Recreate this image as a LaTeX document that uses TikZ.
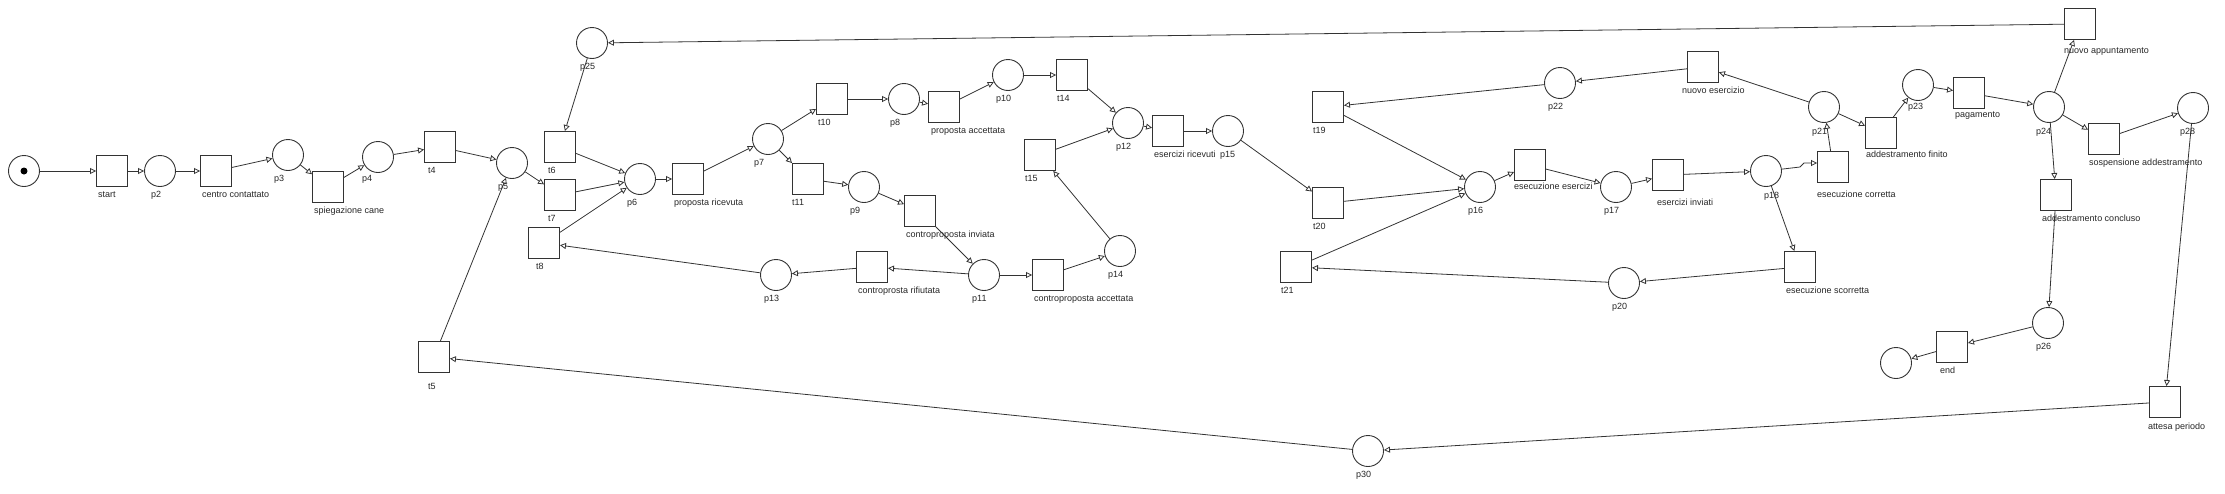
\documentclass[tikz,border=0pt]{standalone}
\usepackage{fontspec}
\setmainfont{Liberation Sans}
\usepackage{tikz}
\usetikzlibrary{arrows.meta}

\tikzset{
    place/.style={circle, draw=black!80, line width=0.9pt, minimum size=31pt, inner sep=0pt},
    transition/.style={rectangle, draw=black!80, line width=0.9pt, minimum size=31pt, inner sep=0pt},
    tok/.style={circle, fill=black, minimum size=7pt, inner sep=0pt},
    lbl/.style={anchor=west, inner sep=0pt, text=black!85, font=\fontsize{9}{10}\selectfont, text height=6.5pt, text depth=2pt},
    flow/.style={draw=black!80, line width=0.8pt, -{Triangle[open, length=6pt, width=6pt]}}
}

\begin{document}
\begin{tikzpicture}[x=1pt, y=-1pt]
\useasboundingbox (0,0) rectangle (2225,493);
\begin{scope}
    % places
    \node [place] (p1) at (24,171) {};
    \node [tok] (tk) at (p1) {};
    \node [place] (p2) at (160,171) {};
    \node [place] (p3) at (288,155) {};
    \node [place] (p4) at (378,157) {};
    \node [place] (p5) at (512,163) {};
    \node [place] (p25) at (592,43) {};
    \node [place] (p6) at (640,179) {};
    \node [place] (p7) at (768,139) {};
    \node [place] (p8) at (904,99) {};
    \node [place] (p9) at (864,187) {};
    \node [place] (p10) at (1008,75) {};
    \node [place] (p11) at (984,275) {};
    \node [place] (p13) at (776,275) {};
    \node [place] (p14) at (1120,251) {};
    \node [place] (p12) at (1128,123) {};
    \node [place] (p15) at (1228,131) {};
    \node [place] (p22) at (1560,83) {};
    \node [place] (p16) at (1480,187) {};
    \node [place] (p17) at (1616,187) {};
    \node [place] (p20) at (1624,283) {};
    \node [place] (p30) at (1368,451) {};
    \node [place] (p18) at (1766,171) {};
    \node [place] (p21) at (1824,107) {};
    \node [place] (p23) at (1918,85) {};
    \node [place] (p24) at (2049,107) {};
    \node [place] (p28) at (2193,108) {};
    \node [place] (p26) at (2048,323) {};
    \node [place] (pend) at (1896,363) {};

    % transitions
    \node [transition] (start) at (112,171) {};
    \node [transition] (centro) at (216,171) {};
    \node [transition] (spieg) at (328,187) {};
    \node [transition] (t4) at (440,147) {};
    \node [transition] (t5) at (434,357) {};
    \node [transition] (t6) at (560,147) {};
    \node [transition] (t7) at (560,195) {};
    \node [transition] (t8) at (544,243) {};
    \node [transition] (propric) at (688,179) {};
    \node [transition] (t10) at (832,99) {};
    \node [transition] (t11) at (808,179) {};
    \node [transition] (propacc) at (944,107) {};
    \node [transition] (t14) at (1072,75) {};
    \node [transition] (t15) at (1040,155) {};
    \node [transition] (continv) at (920,211) {};
    \node [transition] (controrif) at (872,267) {};
    \node [transition] (contacc) at (1048,275) {};
    \node [transition] (eserric) at (1168,131) {};
    \node [transition] (t19) at (1328,107) {};
    \node [transition] (t20) at (1328,203) {};
    \node [transition] (t21) at (1296,267) {};
    \node [transition] (esecesr) at (1530,165) {};
    \node [transition] (eserinv) at (1668,175) {};
    \node [transition] (ecorr) at (1833,167) {};
    \node [transition] (escorr) at (1800,267) {};
    \node [transition] (nuovoes) at (1703,67) {};
    \node [transition] (addfin) at (1881,133) {};
    \node [transition] (pagam) at (1969,93) {};
    \node [transition] (nuovoapp) at (2080,24) {};
    \node [transition] (sosp) at (2104,139) {};
    \node [transition] (addconc) at (2056,195) {};
    \node [transition] (tend) at (1952,347) {};
    \node [transition] (attesa) at (2165,402) {};

    % labels
    \node [lbl] (lstart) at (98,195) {start};
    \node [lbl] (lp2) at (151,195) {p2};
    \node [lbl] (lcentro) at (202,195) {centro contattato};
    \node [lbl] (lp3) at (274,179) {p3};
    \node [lbl] (lspieg) at (314,211) {spiegazione cane};
    \node [lbl] (lp4) at (362,179) {p4};
    \node [lbl] (lt4) at (428,171) {t4};
    \node [lbl] (lp5) at (498,187) {p5};
    \node [lbl] (lt5) at (428,387) {t5};
    \node [lbl] (lt6) at (548,171) {t6};
    \node [lbl] (lt7) at (548,219) {t7};
    \node [lbl] (lt8) at (536,267) {t8};
    \node [lbl] (lp25) at (580,67) {p25};
    \node [lbl] (lp6) at (627,203) {p6};
    \node [lbl] (lpropric) at (674,203) {proposta ricevuta};
    \node [lbl] (lp7) at (754,163) {p7};
    \node [lbl] (lt10) at (818,123) {t10};
    \node [lbl] (lt11) at (792,203) {t11};
    \node [lbl] (lp8) at (890,123) {p8};
    \node [lbl] (lp9) at (850,211) {p9};
    \node [lbl] (lpropacc) at (931,131) {proposta accettata};
    \node [lbl] (lp10) at (996,99) {p10};
    \node [lbl] (lt14) at (1057,99) {t14};
    \node [lbl] (lt15) at (1025,179) {t15};
    \node [lbl] (lcontinv) at (906,235) {controproposta inviata};
    \node [lbl] (lp13) at (764,299) {p13};
    \node [lbl] (lcontrorif) at (858,291) {controprosta rifiutata};
    \node [lbl] (lp11) at (972,299) {p11};
    \node [lbl] (lcontacc) at (1034,299) {controproposta accettata};
    \node [lbl] (lp14) at (1108,275) {p14};
    \node [lbl] (lp12) at (1116,147) {p12};
    \node [lbl] (leserric) at (1154,155) {esercizi ricevuti};
    \node [lbl] (lp15) at (1220,155) {p15};
    \node [lbl] (lt19) at (1313,131) {t19};
    \node [lbl] (lt20) at (1313,227) {t20};
    \node [lbl] (lt21) at (1281,291) {t21};
    \node [lbl] (lp22) at (1548,107) {p22};
    \node [lbl] (lp16) at (1468,211) {p16};
    \node [lbl] (lesecesr) at (1514,187) {esecuzione esercizi};
    \node [lbl] (lp17) at (1604,211) {p17};
    \node [lbl] (lp20) at (1612,307) {p20};
    \node [lbl] (lp30) at (1356,475) {p30};
    \node [lbl] (lnuovoapp) at (2064,51) {nuovo appuntamento};
    \node [lbl] (lnuovoes) at (1682,91) {nuovo esercizio};
    \node [lbl] (lp21) at (1812,132) {p21};
    \node [lbl] (lp23) at (1908,107) {p23};
    \node [lbl] (lpagam) at (1955,115) {pagamento};
    \node [lbl] (lp24) at (2036,132) {p24};
    \node [lbl] (lp28) at (2180,132) {p28};
    \node [lbl] (laddfin) at (1866,155) {addestramento finito};
    \node [lbl] (lsosp) at (2089,163) {sospensione addestramento};
    \node [lbl] (leserinv) at (1657,203) {esercizi inviati};
    \node [lbl] (lp18) at (1764,196) {p18};
    \node [lbl] (lecorr) at (1817,195) {esecuzione corretta};
    \node [lbl] (laddconc) at (2042,219) {addestramento concluso};
    \node [lbl] (lescorr) at (1786,291) {esecuzione scorretta};
    \node [lbl] (lp26) at (2036,347) {p26};
    \node [lbl] (ltend) at (1940,371) {end};
    \node [lbl] (lattesa) at (2148,427) {attesa periodo};

    \path [flow] (p1) edge (start);
    \path [flow] (start) edge (p2);
    \path [flow] (p2) edge (centro);
    \path [flow] (centro) edge (p3);
    \path [flow] (p3) edge (spieg);
    \path [flow] (spieg) edge (p4);
    \path [flow] (p4) edge (t4);
    \path [flow] (t4) edge (p5);
    \path [flow] (p5) edge (t7);
    \path [flow] (t5) edge (p5);
    \path [flow] (p25) edge (t6);
    \path [flow] (t6) edge (p6);
    \path [flow] (t7) edge (p6);
    \path [flow] (t8) edge (p6);
    \path [flow] (p6) edge (propric);
    \path [flow] (propric) edge (p7);
    \path [flow] (p7) edge (t10);
    \path [flow] (p7) edge (t11);
    \path [flow] (t10) edge (p8);
    \path [flow] (p8) edge (propacc);
    \path [flow] (propacc) edge (p10);
    \path [flow] (p10) edge (t14);
    \path [flow] (t14) edge (p12);
    \path [flow] (t15) edge (p12);
    \path [flow] (p14) edge (t15);
    \path [flow] (t11) edge (p9);
    \path [flow] (p9) edge (continv);
    \path [flow] (continv) edge (p11);
    \path [flow] (p11) edge (controrif);
    \path [flow] (controrif) edge (p13);
    \path [flow] (p13) edge (t8);
    \path [flow] (p11) edge (contacc);
    \path [flow] (contacc) edge (p14);
    \path [flow] (p12) edge (eserric);
    \path [flow] (eserric) edge (p15);
    \path [flow] (p15) edge (t20);
    \path [flow] (t20) edge (p16);
    \path [flow] (t19) edge (p16);
    \path [flow] (t21) edge (p16);
    \path [flow] (p22) edge (t19);
    \path [flow] (nuovoes) edge (p22);
    \path [flow] (p21) edge (nuovoes);
    \path [flow] (p16) edge (esecesr);
    \path [flow] (esecesr) edge (p17);
    \path [flow] (p17) edge (eserinv);
    \path [flow] (eserinv) edge (p18);
    \draw [flow] (p18) -- (1800,167) -- (1804,163) -- (ecorr.west |- 0,163);
    \path [flow] (p18) edge (escorr);
    \path [flow] (ecorr) edge (p21);
    \path [flow] (p21) edge (addfin);
    \path [flow] (addfin) edge (p23);
    \path [flow] (p23) edge (pagam);
    \path [flow] (pagam) edge (p24);
    \path [flow] (p24) edge (nuovoapp);
    \path [flow] (p24) edge (sosp);
    \path [flow] (p24) edge (addconc);
    \path [flow] (sosp) edge (p28);
    \path [flow] (p28) edge (attesa);
    \path [flow] (addconc) edge (p26);
    \path [flow] (p26) edge (tend);
    \path [flow] (tend) edge (pend);
    \path [flow] (escorr) edge (p20);
    \path [flow] (p20) edge (t21);
    \path [flow] (nuovoapp) edge (p25);
    \path [flow] (attesa) edge (p30);
    \path [flow] (p30) edge (t5);
\end{scope}
\end{tikzpicture}
\end{document}
